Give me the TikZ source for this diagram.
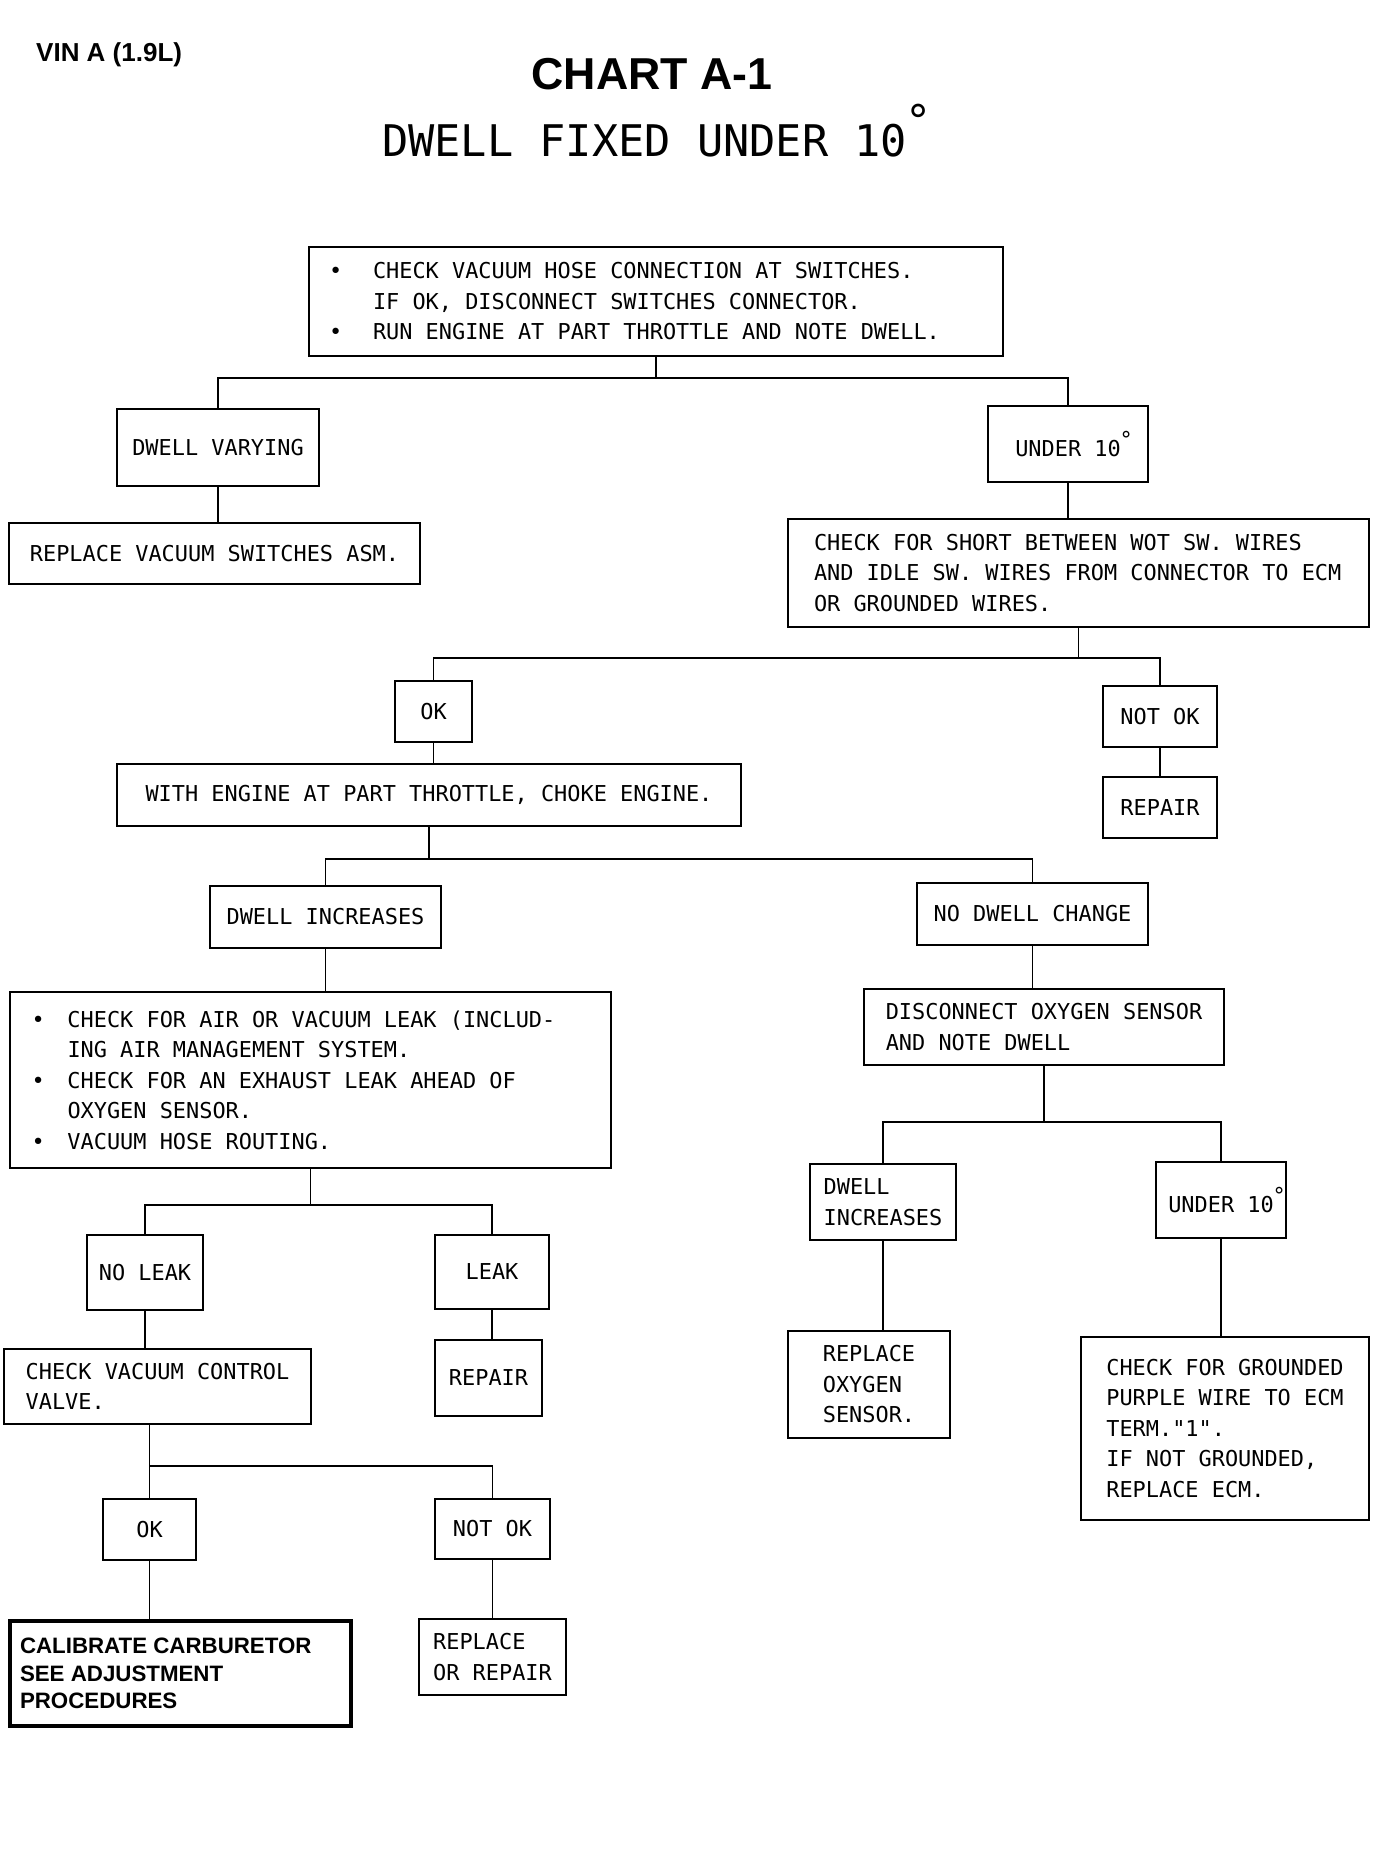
\documentclass[tikz,border=0pt]{standalone}
\usepackage{fontspec}
\usepackage{graphicx}
\newfontfamily\plotfont{DejaVu Sans Mono}
\newfontfamily\headfont{Liberation Sans}
\newcommand{\boxfont}{\plotfont\fontsize{21.9}{30.5}\selectfont}
\newcommand{\bul}[1][44pt]{\makebox[#1][l]{•}}
\newcommand{\degr}{\rlap{\kern-0.05em\raisebox{0.45em}{°}}}

\begin{document}
\begin{tikzpicture}[x=1pt, y=-1pt,
	box/.style={draw, line width=2.4pt, inner sep=0pt, align=flush left, font=\boxfont},
	link/.style={line width=1.8pt}]
	\useasboundingbox (0,0) rectangle (1392,1852);
	% headings
	\node[anchor=base west, inner sep=0pt, font=\headfont\bfseries\fontsize{26}{30}\selectfont] (vin) at (36,62) {VIN A (1.9L)};
	\node[anchor=base, inner sep=0pt, font=\headfont\bfseries\fontsize{44.7}{50}\selectfont] (ttl) at (652,89) {CHART A-1};
	\node[anchor=base west, inner sep=0pt, font=\plotfont\fontsize{43.6}{50}\selectfont] (sub) at (382,156) {DWELL FIXED UNDER 10\degr};
	% first check
	\node[box, minimum width=694pt, minimum height=109pt, text width=654pt] (chk) at (656,301.5) {\bul CHECK VACUUM HOSE CONNECTION AT SWITCHES.\\\hspace*{44pt}IF OK, DISCONNECT SWITCHES CONNECTOR.\\\bul RUN ENGINE AT PART THROTTLE AND NOTE DWELL.};
	\node[box, minimum width=202pt, minimum height=77pt] (dv) at (218,447.5) {DWELL VARYING};
	\node[box, minimum width=411pt, minimum height=61pt] (rv) at (214.5,553.5) {REPLACE VACUUM SWITCHES ASM.};
	\node[box, minimum width=160pt, minimum height=76pt] (u10) at (1068,444) {UNDER 10\degr};
	\node[box, minimum width=581pt, minimum height=108pt, text width=529pt] (cs) at (1078.5,573) {CHECK FOR SHORT BETWEEN WOT SW. WIRES\\AND IDLE SW. WIRES FROM CONNECTOR TO ECM\\OR GROUNDED WIRES.};
	\node[box, minimum width=77pt, minimum height=61pt] (ok1) at (433.5,711.5) {OK};
	\node[box, minimum width=114pt, minimum height=61pt] (nok1) at (1160,716.5) {NOT OK};
	\node[box, minimum width=114pt, minimum height=61pt] (rep1) at (1160,807.5) {REPAIR};
	\node[box, minimum width=624pt, minimum height=62pt] (we) at (429,795) {WITH ENGINE AT PART THROTTLE, CHOKE ENGINE.};
	% choke branches
	\node[box, minimum width=231pt, minimum height=62pt] (di1) at (325.5,917) {DWELL INCREASES};
	\node[box, minimum width=231pt, minimum height=62pt] (ndc) at (1032.5,914) {NO DWELL CHANGE};
	\node[box, minimum width=601pt, minimum height=176pt, text width=558pt] (bl) at (310.5,1080) {\bul[36pt]CHECK FOR AIR OR VACUUM LEAK (INCLUD-\\\hspace*{36pt}ING AIR MANAGEMENT SYSTEM.\\\bul[36pt]CHECK FOR AN EXHAUST LEAK AHEAD OF\\\hspace*{36pt}OXYGEN SENSOR.\\\bul[36pt]VACUUM HOSE ROUTING.};
	\node[box, minimum width=116pt, minimum height=75pt] (nl) at (145,1272.5) {NO LEAK};
	\node[box, minimum width=114pt, minimum height=74pt] (lk) at (492,1272) {LEAK};
	\node[box, minimum width=107pt, minimum height=76pt] (rep2) at (488.5,1378) {REPAIR};
	\node[box, minimum width=307pt, minimum height=75pt] (cv) at (157.5,1386.5) {CHECK VACUUM CONTROL\\VALVE.};
	\node[box, minimum width=93pt, minimum height=61pt] (ok2) at (149.5,1529.5) {OK};
	\node[box, minimum width=115pt, minimum height=60pt] (nok2) at (492.5,1529) {NOT OK};
	\node[box, line width=3.5pt, font=\headfont\bfseries\fontsize{22.3}{27.5}\selectfont, minimum width=341pt, minimum height=105pt, text width=321pt] (cal) at (180.5,1673.5) {CALIBRATE CARBURETOR\\SEE ADJUSTMENT\\PROCEDURES};
	\node[box, minimum width=147pt, minimum height=76pt] (ror) at (492.5,1657) {REPLACE\\OR REPAIR};
	\node[box, minimum width=360pt, minimum height=76pt] (dos) at (1044,1027) {DISCONNECT OXYGEN SENSOR\\AND NOTE DWELL};
	\node[box, minimum width=146pt, minimum height=76pt] (di2) at (883,1202) {DWELL\\INCREASES};
	\node[box, minimum width=130pt, minimum height=76pt] (u10b) at (1221,1200) {UNDER 10\degr};
	\node[box, minimum width=162pt, minimum height=107pt] (ro) at (869,1384.5) {REPLACE\\OXYGEN\\SENSOR.};
	\node[box, minimum width=288pt, minimum height=183pt] (cg) at (1225,1428.5) {CHECK FOR GROUNDED\\PURPLE WIRE TO ECM\\TERM."1".\\IF NOT GROUNDED,\\REPLACE ECM.};
	% connectors
	\draw[link] (chk.south) -- ++(0,21) coordinate (j1);
	\draw[link] (dv.north) |- (j1) -| (u10.north);
	\draw[link] (dv.south) -- (dv.south |- rv.north);
	\draw[link] (u10.south) -- (u10.south |- cs.north);
	\draw[link] (cs.south) -- ++(0,30) coordinate (j2);
	\draw[link] (ok1.north) |- (j2) -| (nok1.north);
	\draw[link] (nok1.south) -- (rep1.north);
	\draw[link] (ok1.south) -- (ok1.south |- we.north);
	\draw[link] (we.south) -- ++(0,32) coordinate (j3);
	\draw[link] (di1.north) |- (j3) -| (ndc.north);
	\draw[link] (di1.south) -- (di1.south |- bl.north);
	\draw[link] (bl.south) -- ++(0,36) coordinate (j4);
	\draw[link] (nl.north) |- (j4) -| (lk.north);
	\draw[link] (lk.south) -- (lk.south |- rep2.north);
	\draw[link] (nl.south) -- (nl.south |- cv.north);
	\draw[link] (cv.south -| ok2.north) -- ++(0,41) coordinate (j5) -| (nok2.north);
	\draw[link] (j5) -- (ok2.north);
	\draw[link] (ok2.south) -- (ok2.south |- cal.north);
	\draw[link] (nok2.south) -- (nok2.south |- ror.north);
	\draw[link] (ndc.south) -- (ndc.south |- dos.north);
	\draw[link] (dos.south) -- ++(0,56) coordinate (j6);
	\draw[link] (di2.north) |- (j6) -| (u10b.north);
	\draw[link] (di2.south) -- (di2.south |- ro.north);
	\draw[link] (u10b.south) -- (u10b.south |- cg.north);
\end{tikzpicture}
\end{document}
